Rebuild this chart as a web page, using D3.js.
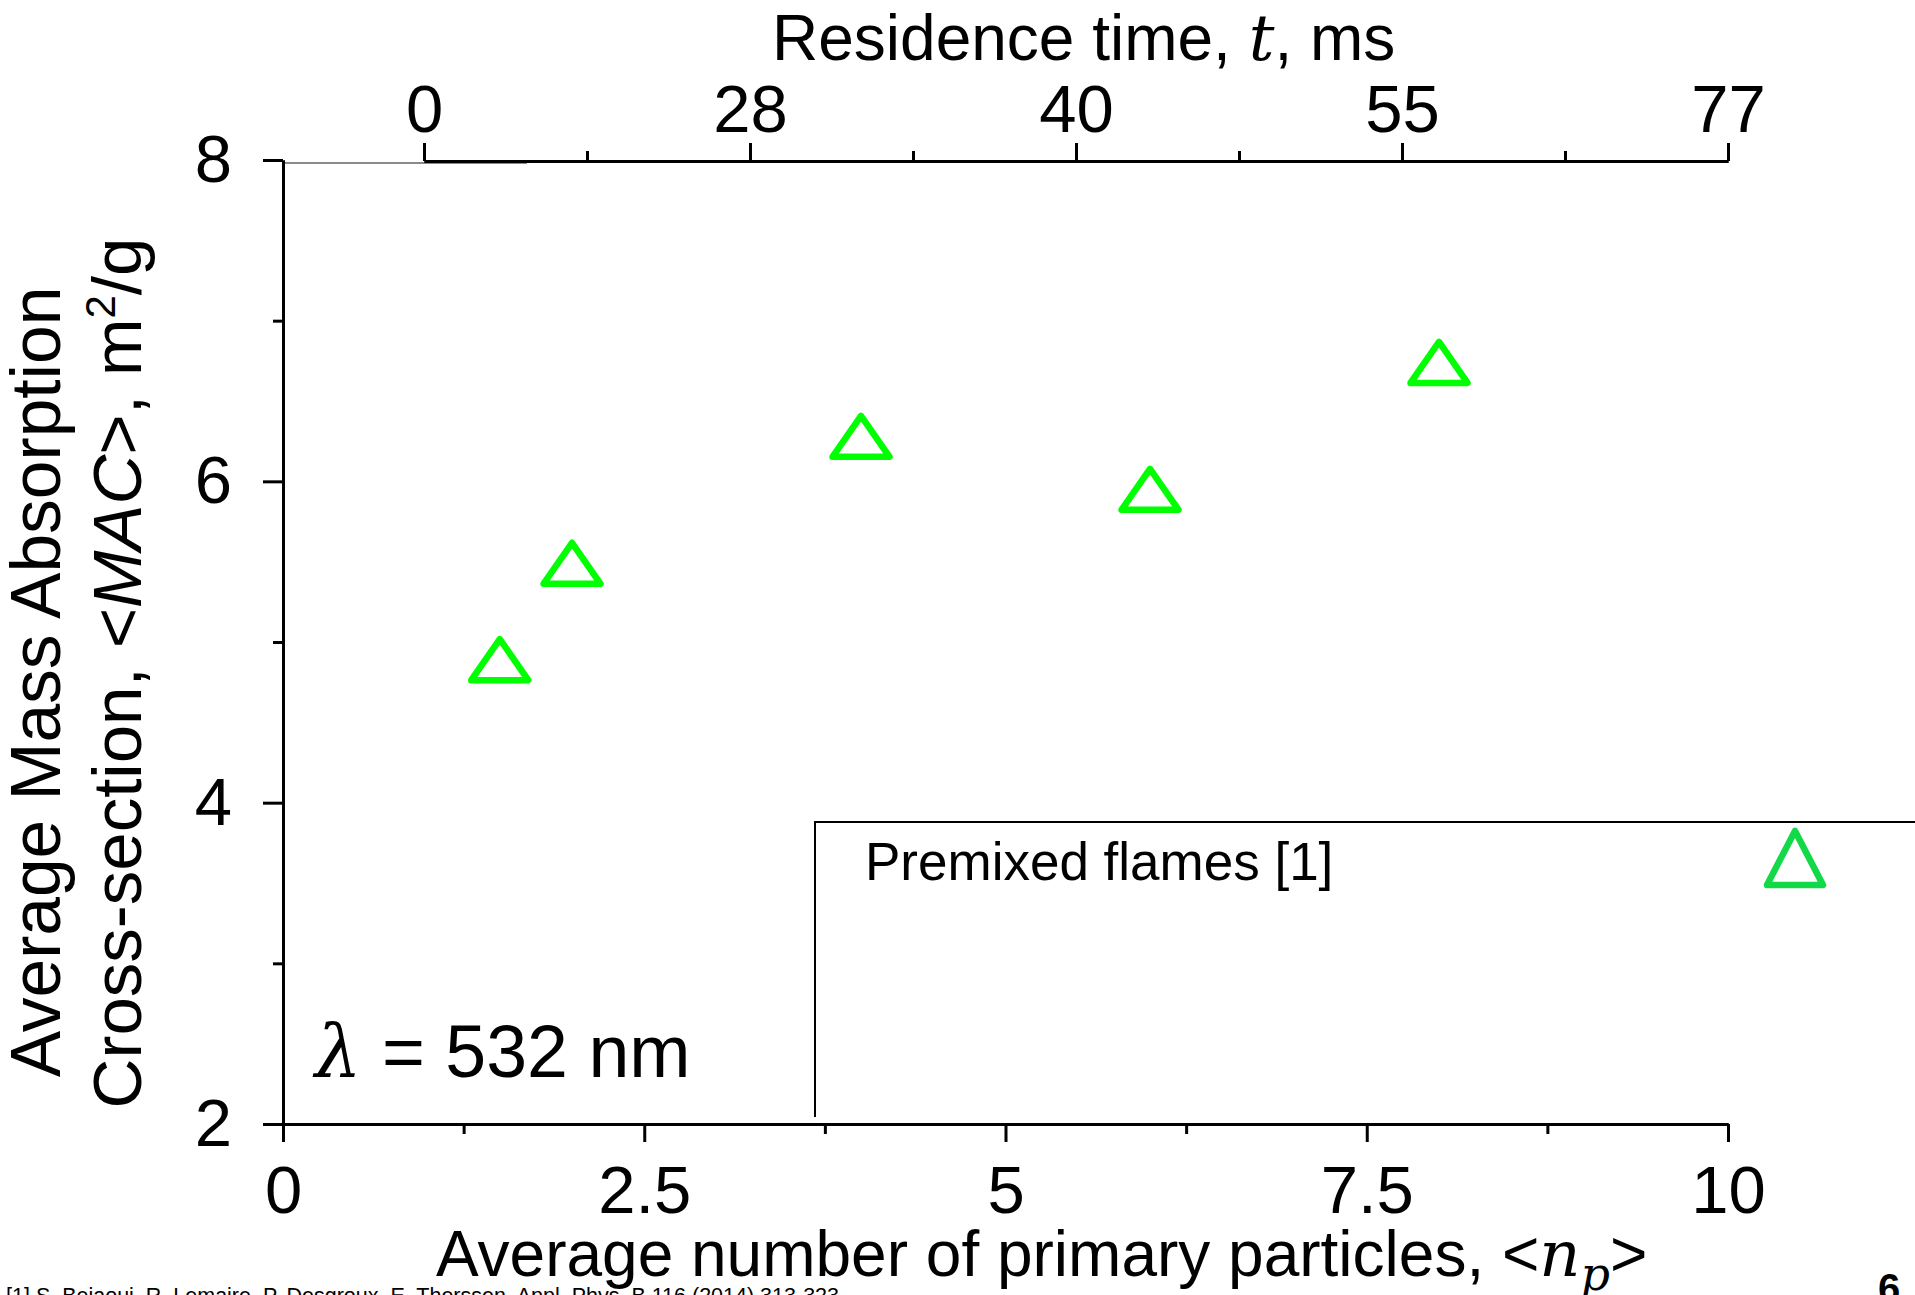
<!DOCTYPE html>
<html>
<head>
<meta charset="utf-8">
<script src="https://cdn.jsdelivr.net/npm/d3@7"></script>
<style>
  html, body { margin: 0; padding: 0; background: #fff; }
  svg { display: block; }
  text { font-family: "Liberation Sans", Arial, sans-serif; fill: #000; }
</style>
</head>
<body>
<svg id="chart" width="1915" height="1295"></svg>
<script>
// Mass absorption cross-section at 532 nm vs. primary particle count
const primaryParticles = [1.5, 2, 4, 6, 8];
const macValues = [4.89, 5.49, 6.28, 5.95, 6.74];

// Axis ticks
const xMajorTicks = [0, 2.5, 5, 7.5, 10];
const xMinorTicks = [1.25, 3.75, 6.25, 8.75];
const yMajorTicks = [2, 4, 6, 8];
const yMinorTicks = [3, 5, 7];
const residenceTimeLabels = ["0", "28", "40", "55", "77"];

const W = 1915, H = 1295;
const plot = { left: 283, right: 1728, top: 160, bottom: 1124 };
const topAxisStart = 424;

const svg = d3.select("#chart");
svg.append("rect").attr("width", W).attr("height", H).attr("fill", "#fff");

const x = d3.scaleLinear().domain([0, 10]).range([plot.left, plot.right]);
const y = d3.scaleLinear().domain([2, 8]).range([plot.bottom, plot.top]);
const tScale = d3.scaleLinear().domain([0, residenceTimeLabels.length - 1])
  .range([topAxisStart, plot.right]);

function styleAxis(g) {
  g.selectAll("path.domain").attr("stroke", "#000").attr("stroke-width", 3);
  g.selectAll(".tick line").attr("stroke", "#000").attr("stroke-width", 3);
  g.selectAll(".tick text")
    .style("font-family", '"Liberation Sans", Arial, sans-serif')
    .style("font-size", "67px").attr("fill", "#000");
}

// thin frame segment along the top-left
svg.append("line")
  .attr("x1", plot.left).attr("x2", 527)
  .attr("y1", plot.top + 3).attr("y2", plot.top + 3)
  .attr("stroke", "#8a8a8a").attr("stroke-width", 2);

// Left axis
svg.append("g").attr("transform", `translate(${plot.left},0)`)
  .call(d3.axisLeft(y).tickValues(yMinorTicks).tickSize(10).tickSizeOuter(0).tickFormat(""))
  .call(styleAxis);
svg.append("g").attr("transform", `translate(${plot.left},0)`)
  .call(d3.axisLeft(y).tickValues(yMajorTicks).tickSize(20).tickSizeOuter(0).tickPadding(31).tickFormat(d3.format("d")))
  .call(styleAxis);

// Bottom axis
svg.append("g").attr("transform", `translate(0,${plot.bottom})`)
  .call(d3.axisBottom(x).tickValues(xMinorTicks).tickSize(10).tickSizeOuter(0).tickFormat(""))
  .call(styleAxis);
svg.append("g").attr("transform", `translate(0,${plot.bottom})`)
  .call(d3.axisBottom(x).tickValues(xMajorTicks).tickSize(18).tickSizeOuter(0).tickPadding(23)
    .tickFormat(d => d3.format("~g")(d)))
  .call(styleAxis);

// Top axis: residence time
const tMinor = d3.range(0.5, residenceTimeLabels.length - 1, 1);
svg.append("g").attr("transform", `translate(0,${plot.top + 1})`)
  .call(d3.axisTop(tScale).tickValues(tMinor).tickSize(10).tickSizeOuter(0).tickFormat(""))
  .call(styleAxis);
svg.append("g").attr("transform", `translate(0,${plot.top + 1})`)
  .call(d3.axisTop(tScale).tickValues(d3.range(residenceTimeLabels.length)).tickSize(18)
    .tickSizeOuter(0).tickPadding(11).tickFormat(i => residenceTimeLabels[i]))
  .call(styleAxis);

// Axis titles
const topTitle = svg.append("text").attr("x", 772).attr("y", 60).style("font-size", "64px");
topTitle.append("tspan").text("Residence time, ");
topTitle.append("tspan").text("t").style("font-family", '"DejaVu Serif", "Liberation Serif", serif')
  .style("font-style", "italic");
topTitle.append("tspan").text(", ms");

const bottomTitle = svg.append("text").attr("x", 436).attr("y", 1276).style("font-size", "64px");
bottomTitle.append("tspan").text("Average number of primary particles, <");
bottomTitle.append("tspan").text("n").style("font-family", '"DejaVu Serif", "Liberation Serif", serif')
  .style("font-style", "italic");
bottomTitle.append("tspan").text("p").attr("dy", 14).style("font-size", "46px")
  .style("font-family", '"DejaVu Serif", "Liberation Serif", serif').style("font-style", "italic");
bottomTitle.append("tspan").text(">").attr("dy", -14);

svg.append("text")
  .attr("transform", "translate(60,682) rotate(-90)")
  .attr("text-anchor", "middle").style("font-size", "69.5px")
  .text("Average Mass Absorption");

const yTitle2 = svg.append("text")
  .attr("transform", "translate(141,673) rotate(-90)")
  .attr("text-anchor", "middle").style("font-size", "69px");
yTitle2.append("tspan").text("Cross-section, <");
yTitle2.append("tspan").text("MAC").style("font-style", "italic");
yTitle2.append("tspan").text(">, m");
yTitle2.append("tspan").text("2").attr("dy", -26).style("font-size", "42px");
yTitle2.append("tspan").text("/g").attr("dy", 26);

// Wavelength annotation
const lam = svg.append("text").attr("x", 315).attr("y", 1077).style("font-size", "73.5px");
lam.append("tspan").text("λ").style("font-family", '"DejaVu Serif", "Liberation Serif", serif')
  .style("font-style", "italic");
lam.append("tspan").text(" = 532 nm");

// Legend box
const legend = { x: 815, y: 822, bottom: 1117 };
svg.append("path")
  .attr("d", `M${legend.x},${legend.bottom} V${legend.y} H${W}`)
  .attr("fill", "none").attr("stroke", "#000").attr("stroke-width", 2);
svg.append("text").attr("x", legend.x + 50).attr("y", legend.y + 58)
  .style("font-size", "53px").text("Premixed flames [1]");
svg.append("path")
  .attr("transform", `translate(${legend.x + 980},${legend.y + 36})`)
  .attr("d", "M-28,27 L0,-27 L28,27 Z")
  .attr("fill", "none").attr("stroke", "#12d948").attr("stroke-width", 6.5)
  .attr("stroke-linejoin", "round");

// Data markers: open triangles
const tri = "M-28.5,20.5 L0,-20.5 L28.5,20.5 Z";
svg.append("g").selectAll("path")
  .data(primaryParticles.map((n, i) => ({ n, mac: macValues[i] })))
  .join("path")
  .attr("transform", d => `translate(${x(d.n)},${y(d.mac)})`)
  .attr("d", tri)
  .attr("fill", "none").attr("stroke", "#00ff00").attr("stroke-width", 6.5)
  .attr("stroke-linejoin", "round");

// Footnote and page number
svg.append("text").attr("x", 6).attr("y", 1303).style("font-size", "21.5px")
  .text("[1] S. Bejaoui, R. Lemaire, P. Desgroux, E. Therssen, Appl. Phys. B 116 (2014) 313-323");
svg.append("text").attr("x", 1878).attr("y", 1302).style("font-size", "40px")
  .style("font-weight", "bold").text("6");
</script>
</body>
</html>
